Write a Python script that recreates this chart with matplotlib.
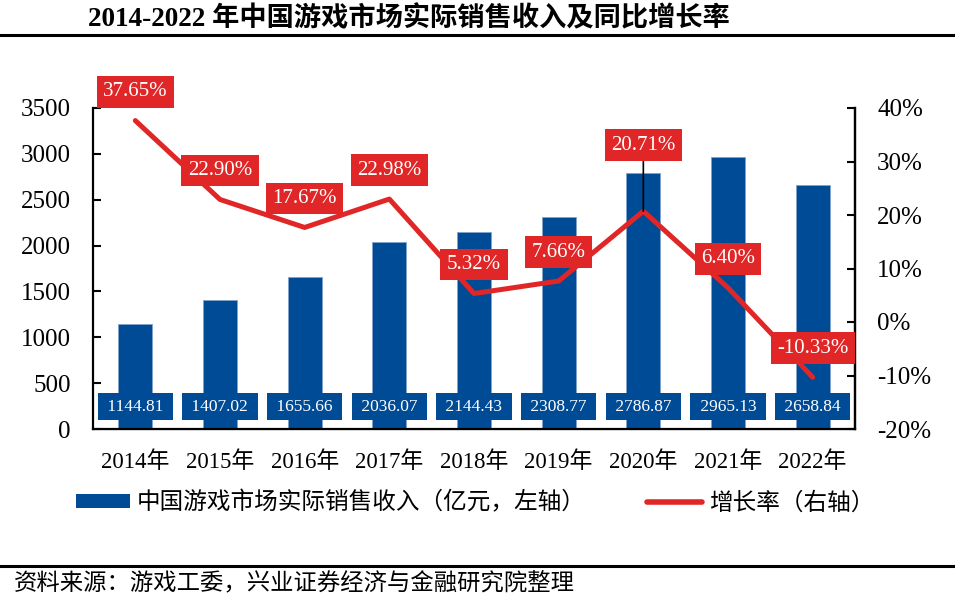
import matplotlib
matplotlib.use('Agg')
import matplotlib.pyplot as plt
from matplotlib.patches import Patch
from matplotlib.lines import Line2D
import numpy as np

plt.rcParams['font.family'] = ['Liberation Serif', 'Noto Sans CJK SC']
plt.rcParams['axes.unicode_minus'] = False

###  DATA  ###
years = ['2014年', '2015年', '2016年', '2017年', '2018年', '2019年', '2020年', '2021年', '2022年']
revenue = [1144.81, 1407.02, 1655.66, 2036.07, 2144.43, 2308.77, 2786.87, 2965.13, 2658.84]
growth = [37.65, 22.90, 17.67, 22.98, 5.32, 7.66, 20.71, 6.40, -10.33]

blue = '#004b96'
red = '#e02626'

fig = plt.figure(figsize=(9.55, 5.97), dpi=100)
ax1 = fig.add_axes([93/955, 1-429/597, (855-93)/955, (429-108)/597])
x = np.arange(len(years))

ax1.bar(x, revenue, width=0.4, color=blue, edgecolor='#7fa3cc', linewidth=0.6, zorder=2)
for i, v in enumerate(revenue):
    ax1.text(i, 245, ' %.2f ' % v, ha='center', va='center', color='white', fontsize=12.5,
             bbox=dict(boxstyle='square,pad=0.3', fc=blue, ec='none'), zorder=3)

ax1.set_xlim(-0.5, len(years)-0.5)
ax1.set_ylim(0, 3500)
ax1.set_yticks(np.arange(0, 3501, 500))
ax1.set_xticks(x)
ax1.set_xticklabels(years)
ax1.tick_params(axis='y', direction='in', length=6, width=1.5, pad=16, labelsize=18)
ax1.tick_params(axis='x', length=0, pad=16, labelsize=16.5)
ax1.spines['top'].set_visible(False)
for s in ['left', 'right', 'bottom']:
    ax1.spines[s].set_linewidth(1.6)

ax2 = ax1.twinx()
ax2.plot(x, growth, color=red, lw=3.6, solid_capstyle='round', solid_joinstyle='round', zorder=2)
ax2.set_ylim(-20, 40)
ax2.set_yticks(np.arange(-20, 41, 10))
ax2.set_yticklabels(['%d%%' % t for t in np.arange(-20, 41, 10)])
ax2.tick_params(axis='y', direction='in', length=6, width=1.5, pad=16, labelsize=18)
ax2.spines['top'].set_visible(False)
ax2.spines['right'].set_linewidth(1.6)
ax2.spines['left'].set_visible(False)

for i, g in enumerate(growth):
    if i == 6:
        ax2.annotate('%.2f%%' % g, xy=(i, g), xytext=(0, 66), textcoords='offset pixels',
                     ha='center', va='center', color='white', fontsize=15,
                     bbox=dict(boxstyle='square,pad=0.31', fc=red, ec='none'),
                     arrowprops=dict(arrowstyle='-', color='black', lw=1.2, shrinkA=0, shrinkB=0),
                     zorder=5)
    else:
        ax2.annotate('%.2f%%' % g, xy=(i, g), xytext=(0, 29), textcoords='offset pixels',
                     ha='center', va='center', color='white', fontsize=15,
                     bbox=dict(boxstyle='square,pad=0.31', fc=red, ec='none'), zorder=5)

# title, legend, source
fig.text(88/955, 1-19/597, '2014-2022 年中国游戏市场实际销售收入及同比增长率', ha='left', va='center',
         fontsize=19.6, fontweight='bold')
fig.add_artist(Line2D([0, 1], [1-35/597, 1-35/597], color='black', lw=2.2))
fig.add_artist(Line2D([0, 1], [1-566/597, 1-566/597], color='black', lw=2.2))
fig.text(14/955, 1-584/597, '资料来源：游戏工委，兴业证券经济与金融研究院整理', ha='left', va='center', fontsize=16.8)

handles = [Patch(fc=blue, ec='none'), Line2D([0], [0], color=red, lw=4, solid_capstyle='round')]
fig.legend(handles, ['中国游戏市场实际销售收入（亿元，左轴）', '增长率（右轴）'], loc='center',
           bbox_to_anchor=(475/955, 1-503/597), ncol=2, frameon=False, fontsize=17,
           handlelength=2.3, handleheight=0.5, handletextpad=0.3, columnspacing=2.6)

fig.savefig('out.png', dpi=100)
